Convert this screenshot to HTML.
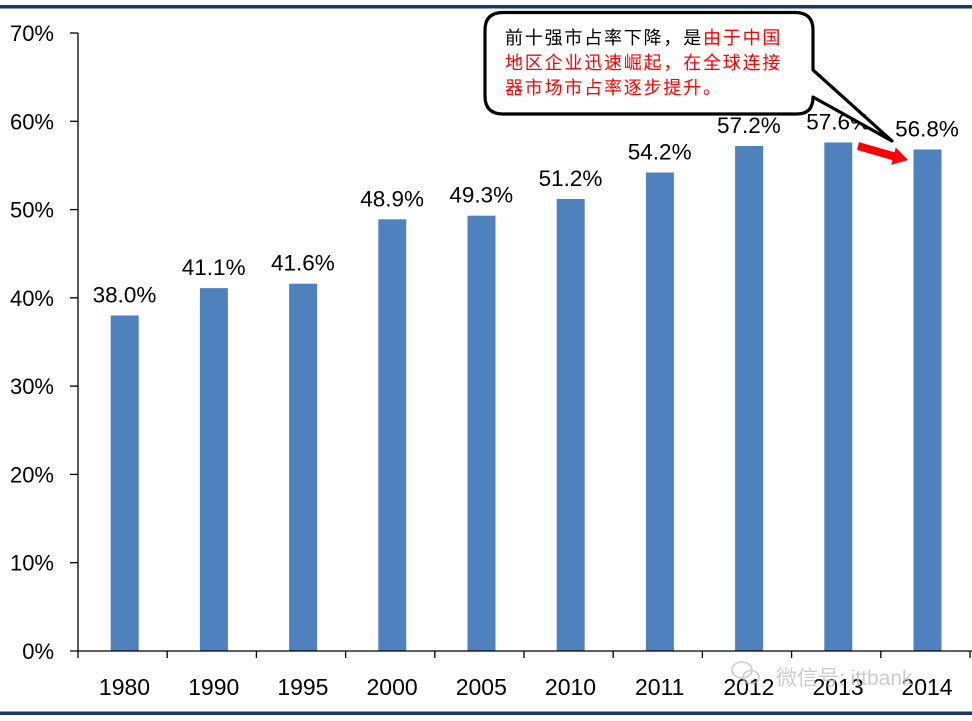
<!DOCTYPE html>
<html><head><meta charset="utf-8"><style>
html,body{margin:0;padding:0;background:#fff;}
svg{display:block;}
</style></head><body>
<svg width="972" height="721" viewBox="0 0 972 721" xmlns="http://www.w3.org/2000/svg">
<rect x="0" y="0" width="972" height="721" fill="#fff"/>
<rect x="0" y="5" width="972" height="3.5" fill="#17375e"/>
<rect x="0" y="711.5" width="972" height="3.5" fill="#17375e"/>

<g font-family="Liberation Sans, sans-serif" font-size="22" fill="#000" text-anchor="end">
<text x="54" y="659">0%</text>
<text x="54" y="570.7">10%</text>
<text x="54" y="482.4">20%</text>
<text x="54" y="394.1">30%</text>
<text x="54" y="305.8">40%</text>
<text x="54" y="217.6">50%</text>
<text x="54" y="129.3">60%</text>
<text x="54" y="41">70%</text>
</g>

<g fill="#4f81bd">
<rect x="110.7" y="315.5" width="28" height="335.5"/>
<rect x="199.9" y="288.1" width="28" height="362.9"/>
<rect x="289.1" y="283.7" width="28" height="367.3"/>
<rect x="378.3" y="219.3" width="28" height="431.7"/>
<rect x="467.5" y="215.7" width="28" height="435.3"/>
<rect x="556.7" y="199.0" width="28" height="452.0"/>
<rect x="645.9" y="172.5" width="28" height="478.5"/>
<rect x="735.1" y="146.0" width="28" height="505.0"/>
<rect x="824.3" y="142.5" width="28" height="508.5"/>
<rect x="913.5" y="149.5" width="28" height="501.5"/>
</g>

<g stroke="#000" stroke-width="1.3" fill="none">
<line x1="78" y1="33" x2="78" y2="658"/>
<line x1="70" y1="651" x2="972" y2="651"/>
<line x1="70" y1="562.7" x2="78" y2="562.7"/>
<line x1="70" y1="474.4" x2="78" y2="474.4"/>
<line x1="70" y1="386.1" x2="78" y2="386.1"/>
<line x1="70" y1="297.8" x2="78" y2="297.8"/>
<line x1="70" y1="209.6" x2="78" y2="209.6"/>
<line x1="70" y1="121.3" x2="78" y2="121.3"/>
<line x1="70" y1="33" x2="78" y2="33"/>
<line x1="167.2" y1="651" x2="167.2" y2="658"/>
<line x1="256.4" y1="651" x2="256.4" y2="658"/>
<line x1="345.6" y1="651" x2="345.6" y2="658"/>
<line x1="434.8" y1="651" x2="434.8" y2="658"/>
<line x1="524" y1="651" x2="524" y2="658"/>
<line x1="613.2" y1="651" x2="613.2" y2="658"/>
<line x1="702.4" y1="651" x2="702.4" y2="658"/>
<line x1="791.6" y1="651" x2="791.6" y2="658"/>
<line x1="880.8" y1="651" x2="880.8" y2="658"/>
<line x1="970" y1="651" x2="970" y2="658"/>
</g>

<g font-family="Liberation Sans, sans-serif" font-size="22.5" fill="#000" text-anchor="middle">
<text x="124.5" y="302.5">38.0%</text>
<text x="213.7" y="275">41.1%</text>
<text x="302.9" y="270.7">41.6%</text>
<text x="392.1" y="206.3">48.9%</text>
<text x="481.3" y="202.7">49.3%</text>
<text x="570.5" y="186">51.2%</text>
<text x="659.7" y="159.5">54.2%</text>
<text x="748.9" y="133">57.2%</text>
<text x="838.1" y="129.5">57.6%</text>
<text x="927" y="136.5">56.8%</text>
</g>

<g font-family="Liberation Sans, sans-serif" font-size="23" fill="#000" text-anchor="middle">
<text x="124.5" y="695">1980</text>
<text x="213.7" y="695">1990</text>
<text x="302.9" y="695">1995</text>
<text x="392.1" y="695">2000</text>
<text x="481.3" y="695">2005</text>
<text x="570.5" y="695">2010</text>
<text x="659.7" y="695">2011</text>
<text x="748.9" y="695">2012</text>
<text x="838.1" y="695">2013</text>
<text x="927" y="695">2014</text>
</g>

<!-- watermark -->
<g opacity="0.75" fill="none" stroke="#bdbdbd" stroke-width="1.6">
<ellipse cx="742" cy="670" rx="10" ry="8"/>
<ellipse cx="751" cy="677" rx="8" ry="6.5"/>
</g>
<text x="776" y="685" font-family="Liberation Sans, 'Noto Sans CJK SC', sans-serif" font-size="21" fill="#c4c4c4" opacity="0.85">微信号: ittbank</text>

<!-- red arrow -->
<polygon points="859,142.1 894.5,152.3 895.8,147.5 908,160 891.2,164.9 892.5,160.1 857,149.9" fill="#ff0000"/>

<!-- callout -->
<path d="M503 12.5 H795 Q813 12.5 813 30 V70 L892 141 L813 97 Q813 114 797 114 H503 Q485 114 485 96 V30 Q485 12.5 503 12.5 Z" fill="#fff" stroke="#000" stroke-width="3.2" stroke-linejoin="round"/>
<g font-family="Liberation Sans, 'Noto Sans CJK SC', sans-serif" font-size="18" letter-spacing="1.8">
<text x="505" y="44"><tspan fill="#000">前十强市占率下降，是</tspan><tspan fill="#ff0000">由于中国</tspan></text>
<text x="505" y="69" fill="#ff0000">地区企业迅速崛起，在全球连接</text>
<text x="505" y="94" fill="#ff0000">器市场市占率逐步提升。</text>
</g>
</svg>
</body></html>
